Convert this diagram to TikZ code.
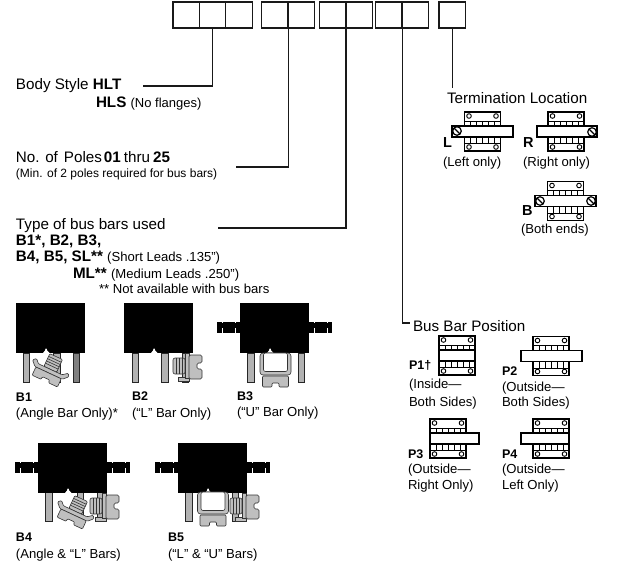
\documentclass[tikz,border=0pt]{standalone}
\usepackage{fontspec}
\setmainfont{Liberation Sans}[Ligatures=ResetAll]
\usetikzlibrary{positioning}

\begin{document}
\begin{tikzpicture}[
    x=1pt, y=-1pt,
    cell/.style={rectangle, draw=black!90, line width=1.3pt, minimum width=26.4pt, minimum height=26pt, inner sep=0pt, outer sep=0pt},
    lead/.style={line width=1.2pt, draw=black!90},
    txt/.style={anchor=base west, inner sep=0pt, outer sep=0pt, font=\fontsize{15.2}{18}\selectfont},
    note/.style={txt, font=\fontsize{13.1}{16}\selectfont},
    tiny/.style={txt, font=\fontsize{12}{15}\selectfont},
    tag/.style={txt, font=\fontsize{12.5}{15}\selectfont\bfseries},
    end/.style={txt, font=\fontsize{14.5}{17}\selectfont\bfseries},
    plate/.style={draw=black, line width=1.1pt, fill=white},
    barbox/.style={draw=black, line width=1.1pt, fill=white},
    leg/.style={draw=black!85, line width=0.7pt, fill=black!30},
    hw/.style={draw=black!80, line width=0.6pt, fill=black!25},
    pics/hinge/.style={code={
        \draw[plate] (-18,-19.5) rectangle (18,-5.5);
        \draw[plate] (-18,5.5) rectangle (18,19.5);
        \draw[line width=0.9pt] (-18,-10.5) -- (18,-10.5);
        \draw[line width=0.9pt] (-18,12) -- (18,12);
        \foreach \tx in {-12,-6,0,6,12} {
            \draw[line width=0.8pt] (\tx,-10.5) -- (\tx,-5.5);
            \draw[line width=0.8pt] (\tx,5.5) -- (\tx,12);
        }
        \foreach \hx/\hy in {-13.5/-15.5, 13.5/-15.5, -13.5/15.5, 13.5/15.5}
            \draw[line width=0.9pt, fill=white] (\hx,\hy) circle (2.3);
    }},
    pics/screw/.style={code={
        \draw[line width=1.2pt, fill=white] (0,0) circle (4.3);
        \draw[line width=1.2pt] (-3,-3) -- (3,3);
    }},
    pics/bodyblock/.style={code={
        \fill[black] (0,0) rectangle (68.5,50);
        \fill[white] (27,50) -- (29,47.5) -- (29.6,45.5) -- (30.6,45.5) -- (31.2,47.5) -- (33.5,50) -- cycle;
    }},
    pics/tabs/.style={code={
        \fill[black] (-23,19) rectangle (0,30);
        \fill[black] (68.5,19) rectangle (92,30);
        \foreach \tx in {-18,-5,74,87} {
            \draw[white, line width=0.6pt] (\tx,25) -- (\tx,30);
            \draw[white, line width=0.4pt] (\tx,19) -- (\tx,20);
        }
    }},
    pics/anglebar/.style={code={
        \draw[hw, rounded corners=1pt] (-7,-17) rectangle (7,-3);
        \foreach \ry in {-14,-11.5,-9,-6.5}
            \draw[black!80, line width=0.6pt] (-7,\ry) -- (7,\ry);
        \draw[hw, rounded corners=1pt] (-17,-7) -- (-20,-4) -- (-15,1) -- (15,1) -- (20,-4) -- (18,-7) -- (13,-3) -- (-13,-3) -- cycle;
        \draw[hw, rounded corners=1pt] (-14,1) -- (14,1) -- (14,10) -- (4,10) -- (4,7) -- (-4,7) -- (-4,10) -- (-14,10) -- cycle;
    }},
    pics/lbar/.style={code={
        \draw[hw, rounded corners=2pt] (-12,-8) rectangle (0,8);
        \foreach \rx in {-9,-6,-3}
            \draw[black!80, line width=0.6pt] (\rx,-8) -- (\rx,8);
        \draw[hw] (-7,11) rectangle (4,15);
        \draw[hw] (0,-13) rectangle (4,12);
        \draw[hw, rounded corners=1.5pt] (4,-11) -- (17,-11) -- (17,-3) -- (12,-3) -- (12,3) -- (17,3) -- (17,13) -- (4,13) -- cycle;
    }},
    pics/ubar/.style={code={
        \draw[hw, rounded corners=3pt] (-15.5,0) -- (-15.5,22) -- (15.5,22) -- (15.5,0) -- cycle;
        \draw[draw=black!80, line width=0.6pt, fill=white, rounded corners=2pt] (-12,0) -- (-12,18.5) -- (12,18.5) -- (12,0) -- cycle;
        \draw[hw, rounded corners=1pt] (-13,23) -- (13,23) -- (13,34) -- (3.5,34) -- (3.5,30) -- (-3.5,30) -- (-3.5,34) -- (-13,34) -- cycle;
    }}
]

    \useasboundingbox (0,0) rectangle (644,571);

    % ORDER CODE CELLS
    \node (c1) [cell] at (186.2,15) {};
    \node (c2) [cell, right=0pt of c1] {};
    \node (c3) [cell, right=0pt of c2] {};
    \node (d1) [cell, right=9.5pt of c3] {};
    \node (d2) [cell, right=0pt of d1] {};
    \node (e1) [cell, right=5pt of d2] {};
    \node (e2) [cell, right=0pt of e1] {};
    \node (f1) [cell, right=3.4pt of e2] {};
    \node (f2) [cell, right=0pt of f1] {};
    \node (g1) [cell, right=10.5pt of f2] {};

    % BODY STYLE
    \node (style) [txt] at (16,89) {Body Style \textbf{HLT}};
    \node (flange) [txt] at (96,107) {\textbf{HLS} \fontsize{13}{16}\selectfont (No flanges)};
    \coordinate (styleend) at (143,86);

    % POLES
    \node (poles) [txt] at (16,162) {No. of\hspace{6pt}Poles\hspace{2pt}\textbf{01}\hspace{3pt}thru\hspace{3pt}\textbf{25}};
    \node (polesmin) [tiny] at (16,177) {(Min. of 2 poles required for bus bars)};
    \coordinate (polesend) at (236,167);

    % BUS BAR TYPES
    \node (types) [txt] at (16,229) {Type of bus bars used};
    \node (typesa) [txt] at (16,245) {\textbf{B1*, B2, B3,}};
    \node (typesb) [txt] at (16,261) {\textbf{B4, B5, SL**} \fontsize{13.1}{16}\selectfont (Short Leads .135")};
    \node (typesc) [txt] at (73,278) {\textbf{ML**} \fontsize{13.1}{16}\selectfont (Medium Leads .250")};
    \node (typesd) [note] at (99,293) {** Not available with bus bars};
    \coordinate (typesend) at (218,228);

    % TERMINATION LOCATION
    \node (term) [txt] at (447,103) {Termination Location};
    \coordinate (termend) at (453,88);
    \node (terml) [end] at (443,147) {L};
    \node (termlt) [note] at (443,166) {(Left only)};
    \node (termr) [end] at (523,147) {R};
    \node (termrt) [note] at (523,166) {(Right only)};
    \node (termb) [end] at (522,215) {B};
    \node (termbt) [note] at (521,233) {(Both ends)};

    % BUS BAR POSITION
    \node (pos) [txt] at (413,331) {Bus Bar Position};
    \coordinate (posend) at (410,323);
    \node (p1) [tag] at (409,369) {P1†};
    \node (p1a) [note] at (409,388) {(Inside—};
    \node (p1b) [note] at (409,406) {Both Sides)};
    \node (p2) [tag] at (502,375) {P2};
    \node (p2a) [note] at (502,391) {(Outside—};
    \node (p2b) [note] at (502,406) {Both Sides)};
    \node (p3) [tag] at (408,458) {P3};
    \node (p3a) [note] at (408,473) {(Outside—};
    \node (p3b) [note] at (408,489) {Right Only)};
    \node (p4) [tag] at (502,458) {P4};
    \node (p4a) [note] at (502,473) {(Outside—};
    \node (p4b) [note] at (502,489) {Left Only)};

    % LEADERS
    \draw [lead] (c2.south) |- (styleend);
    \draw [lead] (d1.south east) |- (polesend);
    \draw [lead] (e1.south east) |- (typesend);
    \draw [lead] (f1.south east) |- (posend);
    \draw [lead] (g1.south) -- (g1.south |- termend);

    % HINGES AND BARS
    \foreach \cx/\cy/\lo/\hi in {482.5/131.5/-30.5/30.5, 566/131.5/-29/31, 565.5/201/-30.5/30.5, 457/355.5/-18/18, 551/356/-30/31, 448/438.5/-18/31, 551/438.5/-30/18} {
        \pic at (\cx,\cy) {hinge};
        \draw [barbox] (\cx+\lo,\cy-5.5) rectangle (\cx+\hi,\cy+5.5);
    }
    \foreach \sx/\sy in {457/131, 592/132, 540/201, 591/201}
        \pic at (\sx,\sy) {screw};

    % LEGS
    \foreach \lx/\ly in {23/353, 53.5/353, 132/353, 161.5/353, 182/353, 247.5/353, 298/353, 45.5/492, 77/492, 97/492, 185.5/492, 232/492} {
        \draw [leg] (\lx,\ly) rectangle (\lx+6.5,\ly+29);
    }
    \draw [leg, fill=black!50] (73,353) rectangle (79.5,382);

    % BODIES
    \foreach \bx/\by in {16/303, 124/303, 240/303, 38/443, 178/443}
        \pic at (\bx,\by) {bodyblock};
    \foreach \bx/\by in {240/303, 38/443, 178/443}
        \pic at (\bx,\by) {tabs};

    % BAR HARDWARE
    \pic [rotate=-25] at (49,372) {anglebar};
    \pic at (185,366) {lbar};
    \pic at (275.5,353) {ubar};
    \pic at (102,506) {lbar};
    \pic [rotate=-25] at (74,514) {anglebar};
    \pic at (242,506) {lbar};
    \pic at (213,492) {ubar};

    % BODY LABELS
    \node (b1) [tag] at (16,401) {B1};
    \node (b1t) [note] at (16,417) {(Angle Bar Only)*};
    \node (b2) [tag] at (132,400) {B2};
    \node (b2t) [note] at (132,417) {(“L” Bar Only)};
    \node (b3) [tag] at (237,400) {B3};
    \node (b3t) [note] at (237,416) {(“U” Bar Only)};
    \node (b4) [tag] at (16,541) {B4};
    \node (b4t) [note] at (16,558) {(Angle \& “L” Bars)};
    \node (b5) [tag] at (168,541) {B5};
    \node (b5t) [note] at (168,558) {(“L” \& “U” Bars)};

\end{tikzpicture}
\end{document}
